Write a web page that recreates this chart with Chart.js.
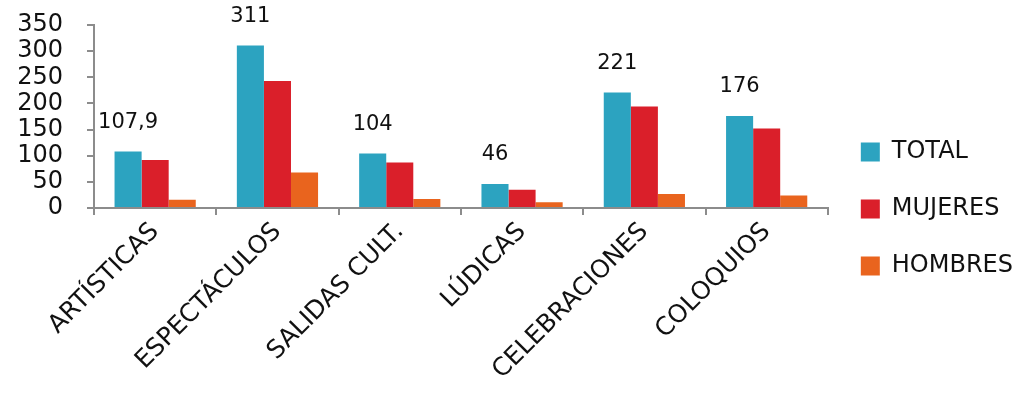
<!DOCTYPE html>
<html>
<head>
<meta charset="utf-8">
<script src="https://cdn.jsdelivr.net/npm/chart.js@4.4.1/dist/chart.umd.min.js"></script>
<style>
    html, body { margin: 0; padding: 0; background: #fff; }
    #wrap { width: 1023px; height: 393px; }
</style>
</head>
<body>
<div id="wrap"><canvas id="barChart"></canvas></div>
<script>
var categories = ['ARTÍSTICAS', 'ESPECTÁCULOS', 'SALIDAS CULT.', 'LÚDICAS', 'CELEBRACIONES', 'COLOQUIOS'];
var totalValues = [107.9, 311, 104, 46, 221, 176];
var mujeresValues = [92, 243, 87, 35, 194, 152];
var hombresValues = [16, 68, 17, 11, 27, 24];
var totalLabels = ['107,9', '311', '104', '46', '221', '176'];
var seriesNames = ['TOTAL', 'MUJERES', 'HOMBRES'];
var seriesColors = ['#2ca3c0', '#da1f2a', '#e9641e'];
var yMin = 0, yMax = 350, yStep = 50;

var axisGray = '#8c8c8c';
var fontFamily = '"DejaVu Sans", sans-serif';

// labels above the TOTAL bars only
var totalLabelPlugin = {
    id: 'totalLabels',
    afterDatasetsDraw: function(chart) {
        var ctx = chart.ctx;
        var meta = chart.getDatasetMeta(0);
        ctx.save();
        ctx.font = '21px ' + fontFamily;
        ctx.fillStyle = '#111';
        ctx.textAlign = 'center';
        ctx.textBaseline = 'middle';
        meta.data.forEach(function(bar, i) {
            ctx.fillText(totalLabels[i], bar.x, bar.y - 29);
        });
        ctx.restore();
    }
};

window.onload = function() {
    var ctx = document.getElementById('barChart').getContext('2d');
    var barChart = new Chart(ctx, {
        type: 'bar',
        data: {
            labels: categories,
            datasets: [
                { label: seriesNames[0], data: totalValues, backgroundColor: seriesColors[0] },
                { label: seriesNames[1], data: mujeresValues, backgroundColor: seriesColors[1] },
                { label: seriesNames[2], data: hombresValues, backgroundColor: seriesColors[2] }
            ]
        },
        options: {
            responsive: true,
            maintainAspectRatio: false,
            animation: false,
            datasets: {
                bar: { categoryPercentage: 0.664, barPercentage: 1.0 }
            },
            layout: { padding: { top: 25, right: 0, bottom: 0, left: 0 } },
            plugins: {
                tooltip: { enabled: false },
                legend: {
                    position: 'right',
                    labels: {
                        boxWidth: 19,
                        boxHeight: 19,
                        padding: 33,
                        color: '#111',
                        font: { family: fontFamily, size: 24 }
                    }
                }
            },
            scales: {
                x: {
                    grid: {
                        offset: true,
                        drawOnChartArea: false,
                        drawTicks: true,
                        tickLength: 7,
                        color: axisGray,
                        lineWidth: 2
                    },
                    border: { display: true, color: axisGray, width: 2 },
                    ticks: {
                        color: '#111',
                        font: { family: fontFamily, size: 25 },
                        minRotation: 45,
                        maxRotation: 45,
                        padding: 2,
                        autoSkip: false
                    },
                    afterFit: function(axis) { axis.height = 185; }
                },
                y: {
                    min: yMin,
                    max: yMax,
                    grid: {
                        drawOnChartArea: false,
                        drawTicks: true,
                        tickLength: 7,
                        color: axisGray,
                        lineWidth: 2
                    },
                    border: { display: true, color: axisGray, width: 2 },
                    ticks: {
                        stepSize: yStep,
                        autoSkip: false,
                        color: '#111',
                        padding: 24,
                        font: { family: fontFamily, size: 24 }
                    },
                    afterFit: function(axis) {
                        axis.width = 94;
                        axis.paddingTop = 12;
                        axis.paddingBottom = 12;
                    }
                }
            }
        },
        plugins: [totalLabelPlugin]
    });
};
</script>
</body>
</html>
